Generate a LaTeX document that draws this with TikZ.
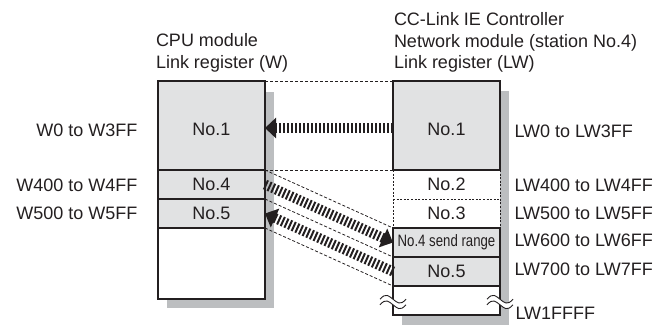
\documentclass[tikz,border=0pt]{standalone}
\usepackage{fontspec}
\usepackage{graphicx}
\setmainfont{Liberation Sans}
\usetikzlibrary{arrows.meta}
\definecolor{ink}{HTML}{231F20}
\definecolor{cellgray}{HTML}{E1E2E3}
\definecolor{shadowgray}{HTML}{BCBEC0}
\begin{document}
\begin{tikzpicture}[x=1pt,y=-1pt,
  every node/.style={inner sep=0pt,outer sep=0pt,text=ink,font=\fontsize{18}{21.5}\selectfont},
  cell/.style={minimum width=107pt,minimum height=#1,fill=cellgray},
  blank/.style={minimum width=107pt,minimum height=#1,fill=white},
  frame/.style={draw=ink,line width=2.2pt},
  divider/.style={draw=ink,line width=1.3pt},
  dotrule/.style={draw=ink,line width=1pt,dash pattern=on 2pt off 1.6pt},
  bandline/.style={draw=ink,line width=0.8pt,dash pattern=on 3pt off 2pt},
  hatch/.style={draw=ink,line width=10pt,dash pattern=on 2pt off 2pt,-{Triangle[length=11pt,width=20pt]}},
  shadowfill/.style={fill=shadowgray},
  leftlabel/.style={anchor=east},
  rightlabel/.style={anchor=west},
  head/.style={anchor=base west},
  breakmark/.pic={
    \draw[white,line width=4.5pt] (-13,0) .. controls (-7,-7) and (-4,-3) .. (0,0) .. controls (4,3) and (7,7) .. (13,0);
    \draw[ink,line width=0.9pt] (-13,-2.8) .. controls (-7,-9.8) and (-4,-5.8) .. (0,-2.8) .. controls (4,0.2) and (7,4.2) .. (13,-2.8);
    \draw[ink,line width=0.9pt] (-13,2.8) .. controls (-7,-4.2) and (-4,-0.2) .. (0,2.8) .. controls (4,5.8) and (7,9.8) .. (13,2.8);
  }
]
\useasboundingbox (0,0) rectangle (659,325);
% shadows
\fill[shadowfill] (167,92) rectangle (274,308);
\fill[shadowfill] (402,91) rectangle (509,325);
% left column rows
\node[cell=89pt] (L1) at (211.5,125.5) {};
\node[cell=29pt] (L4) at (211.5,184.5) {No.4};
\node[cell=29pt] (L5) at (211.5,213.5) {No.5};
\node[blank=71pt] (L6) at (211.5,263.5) {};
\node (L1t) at ([yshift=-3.5pt]L1.center) {No.1};
% right column rows
\node[cell=89pt] (R1) at (446.5,125.5) {};
\node[blank=29pt] (R2) at (446.5,184.5) {No.2};
\node[blank=29pt] (R3) at (446.5,213.5) {No.3};
\node[cell=29pt] (R4) at (446.5,242.5) {\fontsize{16.5}{16.5}\selectfont\scalebox{0.8}[1]{No.4 send range}};
\node[cell=29pt] (R5) at (446.5,271.5) {No.5};
\node[blank=29pt] (R6) at (446.5,300.5) {};
\node (R1t) at ([yshift=-3.5pt]R1.center) {No.1};
% band lines
\draw[bandline] (L1.north east) -- (R1.north west);
\draw[bandline] (L1.south east) -- (R1.south west);
\draw[bandline] (L4.north east) -- (R4.north west);
\draw[bandline] (L5.north east) -- (R5.north west);
\draw[bandline] (L5.south east) -- (R5.south west);
% left frame
\draw[divider] (L1.south west) -- (L1.south east);
\draw[divider] (L4.south west) -- (L4.south east);
\draw[divider] (L5.south west) -- (L5.south east);
\draw[frame] (L1.north west) rectangle (L6.south east);
% right frame
\draw[frame] (R1.north west) rectangle (R1.south east);
\draw[dotrule] (R2.north west) -- (R3.south west);
\draw[dotrule] (R2.north east) -- (R3.south east);
\draw[dotrule] (R2.south west) -- (R2.south east);
\draw[divider] (R4.south west) -- (R4.south east);
\draw[divider] (R5.south west) -- (R5.south east);
\draw[frame] (R4.north west) rectangle (R6.south east);
\pic at ([yshift=-1.5pt]R6.west) {breakmark};
\pic at ([yshift=-1.5pt]R6.east) {breakmark};
% arrows
\draw[hatch] ([yshift=-2.5pt]R1.west) -- ([yshift=-2.5pt]L1.east);
\draw[hatch] (L4.east) -- (R4.west);
\draw[hatch] (R5.west) -- (L5.east);
% labels
\node[leftlabel] (wa) at (137.5,130.5) {W0 to W3FF};
\node[leftlabel] (wb) at (137.5,185.5) {W400 to W4FF};
\node[leftlabel] (wc) at (137.5,213.5) {W500 to W5FF};
\node[rightlabel] (la) at (514.5,131) {LW0 to LW3FF};
\node[rightlabel] (lb) at (514.5,185) {LW400 to LW4FF};
\node[rightlabel] (lc) at (514.5,213.5) {LW500 to LW5FF};
\node[rightlabel] (ld) at (514.5,240.5) {LW600 to LW6FF};
\node[rightlabel] (le) at (514.5,269.5) {LW700 to LW7FF};
\node[rightlabel] (lf) at (515.5,313.5) {LW1FFFF};
% headers
\node[head] (h1) at (156,46.5) {CPU module};
\node[head] (h2) at (156,68) {Link register (W)};
\node[head] (h3) at (394,25.5) {CC-Link IE Controller};
\node[head] (h4) at (394,47) {Network module (station No.4)};
\node[head] (h5) at (394,68.5) {Link register (LW)};
\end{tikzpicture}
\end{document}
